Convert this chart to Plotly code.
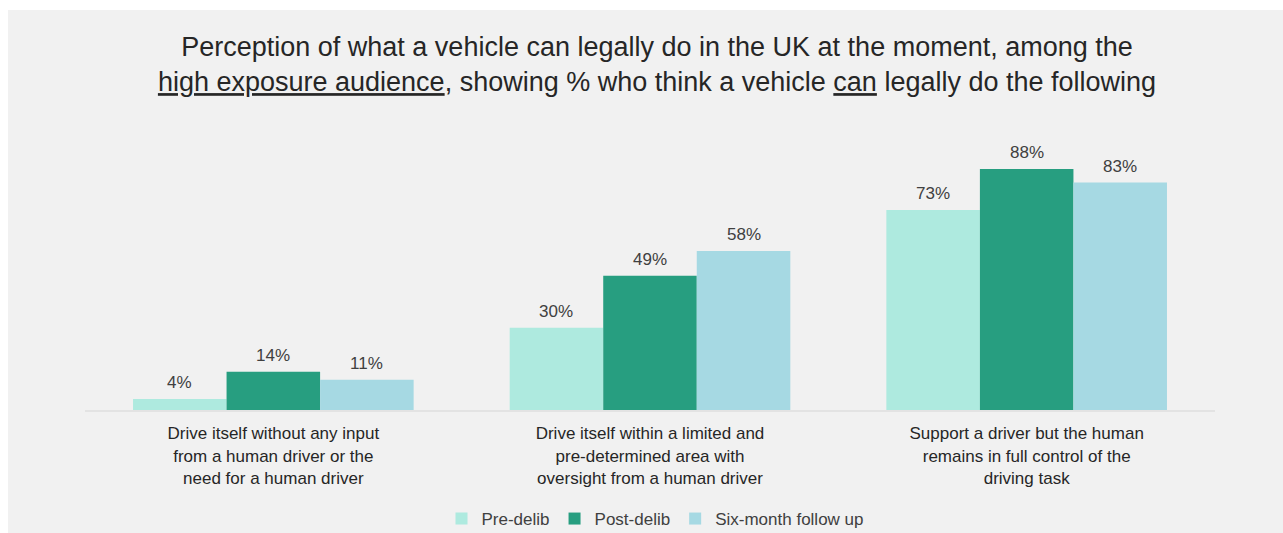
import plotly.graph_objects as go

# Survey categories (x axis) and the share who think a vehicle can legally do each
categories = [
    "Drive itself without any input<br>from a human driver or the<br>need for a human driver",
    "Drive itself within a limited and<br>pre-determined area with<br>oversight from a human driver",
    "Support a driver but the human<br>remains in full control of the<br>driving task",
]
series_names = ["Pre-delib", "Post-delib", "Six-month follow up"]
pre_delib = [4, 30, 73]
post_delib = [14, 49, 88]
six_month = [11, 58, 83]
series_colors = ["#aeeadf", "#279e80", "#a6d9e3"]

W, H = 1283, 533
ML, MR, MT, MB = 85, 68, 136, 123
FONT = "Liberation Sans, Arial, sans-serif"
BARGAP = 0.255

plot_w = W - ML - MR
plot_h = H - MT - MB
bar_px = plot_w / len(categories) * (1 - BARGAP) / len(series_names)

fig = go.Figure()
all_series = [pre_delib, post_delib, six_month]
for i, (name, vals, col) in enumerate(zip(series_names, all_series, series_colors)):
    fig.add_trace(go.Bar(
        name=name, x=categories, y=vals, marker=dict(color=col, line=dict(width=0)),
    ))
    # value labels sitting just above each bar
    shift = (i - (len(series_names) - 1) / 2) * bar_px
    for cat, v in zip(categories, vals):
        fig.add_annotation(x=cat, y=v, text=f"{v}%", showarrow=False,
                           xshift=shift, yshift=5, yanchor="bottom",
                           font=dict(family=FONT, size=17, color="#404040"))

# grey panel behind the chart, expressed in paper coordinates
x0 = (8 - ML) / plot_w
x1 = (W - ML) / plot_w
y1 = (H - 10 - MB) / plot_h
y0 = (0 - MB) / plot_h
fig.add_shape(type="rect", xref="paper", yref="paper", x0=x0, x1=x1, y0=y0, y1=y1,
              fillcolor="#f1f1f1", line=dict(width=0), layer="below")

fig.update_layout(
    width=W, height=H, autosize=False,
    margin=dict(l=ML, r=MR, t=MT, b=MB, autoexpand=False),
    paper_bgcolor="white", plot_bgcolor="rgba(0,0,0,0)",
    barmode="group", bargap=BARGAP, bargroupgap=0,
    font=dict(family=FONT, color="#404040"),
    title=dict(
        text="Perception of what a vehicle can legally do in the UK at the moment, among the<br>"
             "<u>high exposure audience</u>, showing % who think a vehicle <u>can</u> legally do the following",
        x=657 / W, xanchor="center", xref="container",
        y=1 - 56 / H, yanchor="middle", yref="container",
        font=dict(family=FONT, size=27, color="#262626"),
    ),
    xaxis=dict(showline=True, linecolor="#e3e3e3", linewidth=2, ticks="",
               tickfont=dict(family=FONT, size=17, color="#262626"),
               tickangle=0, automargin=False, ticklabelstandoff=7),
    yaxis=dict(range=[0, 100], visible=False, showgrid=False),
    legend=dict(orientation="h", x=(655 - ML) / plot_w, xanchor="center",
                y=(H - MB - 519) / plot_h, yanchor="middle",
                font=dict(family=FONT, size=17, color="#404040"),
                bgcolor="rgba(0,0,0,0)", itemwidth=30),
    showlegend=True,
)

fig.write_html("out.html")
